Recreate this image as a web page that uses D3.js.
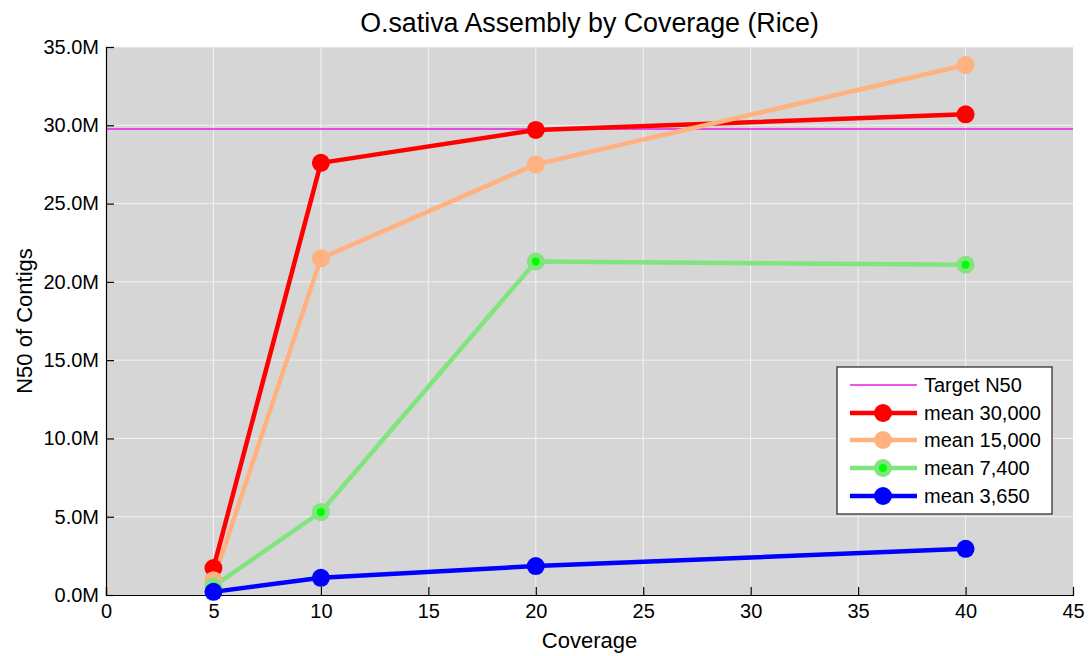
<!DOCTYPE html>
<html>
<head>
<meta charset="utf-8">
<script src="https://cdn.jsdelivr.net/npm/d3@7"></script>
<style>
  body { margin: 0; background: #fff; }
  svg { font-family: "Liberation Sans", Arial, sans-serif; }
</style>
</head>
<body>
<svg id="chart" width="1089" height="656"></svg>
<script>
// Coverage levels and N50 values (in millions) per mean read length
const coverage = [5, 10, 20, 40];
const n50_30000 = [1.72, 27.6, 29.7, 30.7];
const n50_15000 = [0.95, 21.5, 27.5, 33.85];
const n50_7400 = [0.55, 5.3, 21.3, 21.1];
const n50_3650 = [0.2, 1.1, 1.85, 2.95];
const targetN50 = 29.76;

const xTicks = [0, 5, 10, 15, 20, 25, 30, 35, 40, 45];
const yTicks = [0, 5, 10, 15, 20, 25, 30, 35];

const series = [
  { name: "mean 30,000", values: n50_30000, color: "#ff0000", inner: null },
  { name: "mean 15,000", values: n50_15000, color: "#ffb27f", inner: null },
  { name: "mean 7,400", values: n50_7400, color: "#80e47f", inner: "#00ff00" },
  { name: "mean 3,650", values: n50_3650, color: "#0000ff", inner: null }
];

const margin = { left: 106, right: 16, top: 47, bottom: 61 };
const W = 1089, H = 656;
const svg = d3.select("#chart");

const x = d3.scaleLinear().domain([0, 45]).range([margin.left, W - margin.right]);
const y = d3.scaleLinear().domain([0, 35]).range([H - margin.bottom, margin.top]);

// plot background
svg.append("rect")
  .attr("x", x(0)).attr("y", y(35))
  .attr("width", x(45) - x(0)).attr("height", y(0) - y(35))
  .attr("fill", "#d6d6d6");

// grid
svg.append("g").selectAll("line").data(xTicks.slice(1, -1)).join("line")
  .attr("x1", d => x(d)).attr("x2", d => x(d))
  .attr("y1", y(0)).attr("y2", y(35))
  .attr("stroke", "#f2f2f2").attr("stroke-width", 1);
svg.append("g").selectAll("line").data(yTicks.slice(1)).join("line")
  .attr("x1", x(0)).attr("x2", x(45))
  .attr("y1", d => y(d)).attr("y2", d => y(d))
  .attr("stroke", "#f2f2f2").attr("stroke-width", 1);

// target line
svg.append("line")
  .attr("x1", x(0)).attr("x2", x(45))
  .attr("y1", y(targetN50)).attr("y2", y(targetN50))
  .attr("stroke", "#e61ee6").attr("stroke-width", 1.5);

// axes
const xAxis = d3.axisBottom(x).tickValues(xTicks).tickSize(-8).tickPadding(9).tickFormat(d3.format("d"));
const yAxis = d3.axisLeft(y).tickValues(yTicks).tickSize(-8).tickPadding(7).tickFormat(d => d.toFixed(1) + "M");

const gx = svg.append("g").attr("transform", `translate(0,${y(0)})`).call(xAxis);
const gy = svg.append("g").attr("transform", `translate(${x(0)},0)`).call(yAxis);
[gx, gy].forEach(g => {
  g.select(".domain").attr("stroke", "#000").attr("stroke-width", 1.2);
  g.selectAll(".tick line").attr("stroke", "#000").attr("stroke-width", 1.2);
  g.selectAll(".tick text").attr("fill", "#000").style("font-size", "20px");
});
gx.select(".tick:last-of-type line").remove();

// lines and markers
const line = d3.line().x((d, i) => x(coverage[i])).y(d => y(d));
series.forEach(s => {
  svg.append("path").datum(s.values)
    .attr("d", line).attr("fill", "none")
    .attr("stroke", s.color).attr("stroke-width", 4.5)
    .attr("stroke-linejoin", "round");
});
series.forEach(s => {
  const g = svg.append("g");
  g.selectAll("circle.outer").data(s.values).join("circle")
    .attr("cx", (d, i) => x(coverage[i])).attr("cy", d => y(d))
    .attr("r", 9).attr("fill", s.color);
  if (s.inner) {
    g.selectAll("circle.inner").data(s.values).join("circle")
      .attr("cx", (d, i) => x(coverage[i])).attr("cy", d => y(d))
      .attr("r", 4).attr("fill", s.inner);
  }
});

// title and axis labels
svg.append("text").attr("x", (x(0) + x(45)) / 2).attr("y", 32)
  .attr("text-anchor", "middle").style("font-size", "26.8px").text("O.sativa Assembly by Coverage (Rice)");
svg.append("text").attr("x", (x(0) + x(45)) / 2).attr("y", 648)
  .attr("text-anchor", "middle").style("font-size", "22px").text("Coverage");
svg.append("text")
  .attr("transform", `translate(32,${(y(0) + y(35)) / 2}) rotate(-90)`)
  .attr("text-anchor", "middle").style("font-size", "22px").text("N50 of Contigs");

// legend
const lg = svg.append("g").attr("transform", "translate(837,367)");
lg.append("rect").attr("width", 215).attr("height", 147)
  .attr("fill", "#fff").attr("stroke", "#222").attr("stroke-width", 1.2);
const rowY = [18, 46, 73, 101, 129];
lg.append("line").attr("x1", 13).attr("x2", 80).attr("y1", rowY[0]).attr("y2", rowY[0])
  .attr("stroke", "#e61ee6").attr("stroke-width", 1.5);
lg.append("text").attr("x", 87).attr("y", rowY[0] + 7).style("font-size", "20px").text("Target N50");
series.forEach((s, i) => {
  const yy = rowY[i + 1];
  lg.append("line").attr("x1", 13).attr("x2", 80).attr("y1", yy).attr("y2", yy)
    .attr("stroke", s.color).attr("stroke-width", 4.5);
  lg.append("circle").attr("cx", 46).attr("cy", yy).attr("r", 9).attr("fill", s.color);
  if (s.inner) lg.append("circle").attr("cx", 46).attr("cy", yy).attr("r", 4).attr("fill", s.inner);
  lg.append("text").attr("x", 87).attr("y", yy + 7).style("font-size", "20px").text(s.name);
});
</script>
</body>
</html>
